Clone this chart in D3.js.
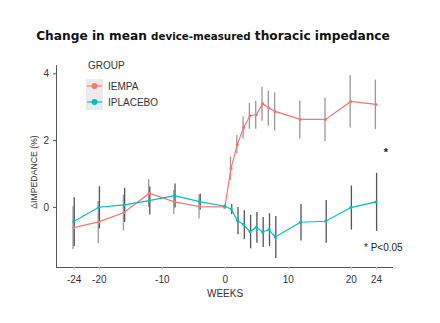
<!DOCTYPE html>
<html><head><meta charset="utf-8">
<script src="https://cdn.jsdelivr.net/npm/d3@7"></script>
<style>body{margin:0;background:#fff;} svg{display:block;}</style>
</head><body><svg id="c" width="440" height="323"></svg>
<script>
const weeks = [-24,-20,-16,-12,-8,-4,0,1,2,3,4,5,6,7,8,12,16,20,24];
const empaMean = [-0.62,-0.45,-0.17,0.41,0.15,0.01,0.0,1.16,1.88,2.38,2.73,2.76,3.09,2.96,2.86,2.62,2.62,3.16,3.07];
const empaErr  = [0.64,0.63,0.54,0.42,0.36,0.36,0.06,0.35,0.27,0.33,0.39,0.42,0.51,0.53,0.57,0.57,0.65,0.78,0.74];
const placMean = [-0.44,-0.01,0.06,0.19,0.34,0.16,0.02,-0.06,-0.41,-0.53,-0.74,-0.61,-0.75,-0.68,-0.90,-0.46,-0.43,-0.02,0.15];
const placErr  = [0.73,0.63,0.51,0.42,0.36,0.24,0.06,0.15,0.41,0.43,0.5,0.46,0.45,0.49,0.63,0.55,0.64,0.66,0.87];
const xTicks = [-24,-20,-10,0,10,20,24];
const yTicks = [0,2,4];
const groups = ["IEMPA","IPLACEBO"];
const colors = ["#F8766D","#00BFC4"];

const svg = d3.select("#c");
const x = d3.scaleLinear().domain([-26.8,26.7]).range([56,393]);
const y = d3.scaleLinear().domain([-1.8,4.25]).range([267,65]);

// title
const t = svg.append("text").attr("x",213).attr("y",40).attr("text-anchor","middle")
  .attr("font-family","DejaVu Sans").attr("font-weight","bold").attr("fill","#111");
t.append("tspan").attr("font-size",12.2).text("Change in mean ");
t.append("tspan").attr("font-size",10.3).text("device-measured");
t.append("tspan").attr("font-size",12.2).text(" thoracic impedance");

// axes
const fmt = d => String(d);
const ax = svg.append("g").attr("transform","translate(0,267)")
  .call(d3.axisBottom(x).tickValues(xTicks).tickFormat(fmt).tickSize(3).tickPadding(6));
ax.select(".domain").attr("d",`M56,0.5H393`).attr("stroke","#555");
ax.selectAll(".tick line").attr("stroke","#ccc");
ax.selectAll("text").attr("font-family","Liberation Sans").attr("font-size",10).attr("fill","#333");
const ay = svg.append("g").attr("transform","translate(56,0)")
  .call(d3.axisLeft(y).tickValues(yTicks).tickFormat(fmt).tickSize(3).tickPadding(4));
ay.select(".domain").attr("d",`M0.5,65V267`).attr("stroke","#555");
ay.selectAll(".tick line").attr("stroke","#555");
ay.selectAll("text").attr("font-family","Liberation Sans").attr("font-size",10).attr("fill","#333");

svg.append("text").attr("x",225).attr("y",297).attr("text-anchor","middle")
  .attr("font-family","Liberation Sans").attr("font-size",10).attr("fill","#333").text("WEEKS");
svg.append("text").attr("transform","translate(37,172) rotate(-90)").attr("text-anchor","middle")
  .attr("font-family","Liberation Sans").attr("font-size",8.7).attr("fill","#333").text("ΔIMPEDANCE (%)");

const series = [
  {m:empaMean,e:empaErr,c:colors[0]},
  {m:placMean,e:placErr,c:colors[1]}
];
const line = d3.line().x((d,i)=>x(weeks[i])).y(d=>y(d));
series.forEach((s,k)=>{
  const g = svg.append("g");
  g.selectAll("line").data(s.m).join("line")
    .attr("x1",(d,i)=>x(weeks[i])+(k?0.6:-0.6)).attr("x2",(d,i)=>x(weeks[i])+(k?0.6:-0.6))
    .attr("y1",(d,i)=>y(d-s.e[i])).attr("y2",(d,i)=>y(d+s.e[i]))
    .attr("stroke",k?"#555":"#999").attr("stroke-width",1.3);
});
series.forEach(s=>{
  svg.append("path").attr("d",line(s.m)).attr("fill","none").attr("stroke",s.c).attr("stroke-width",1.2);
  svg.append("g").selectAll("circle").data(s.m).join("circle")
    .attr("cx",(d,i)=>x(weeks[i])).attr("cy",d=>y(d)).attr("r",1.5).attr("fill",s.c);
});

// legend
svg.append("text").attr("x",88).attr("y",69).attr("font-family","Liberation Sans").attr("font-size",10).attr("fill","#333").text("GROUP");
svg.append("rect").attr("x",86).attr("y",79).attr("width",17).attr("height",31).attr("fill","#EBEBEB");
groups.forEach((gname,i)=>{
  const yy = 86 + i*16;
  svg.append("line").attr("x1",87).attr("x2",102).attr("y1",yy).attr("y2",yy).attr("stroke",colors[i]).attr("stroke-width",1.2);
  svg.append("circle").attr("cx",94.5).attr("cy",yy).attr("r",3).attr("fill",colors[i]);
  svg.append("text").attr("x",108).attr("y",yy+3.5).attr("font-family","Liberation Sans").attr("font-size",10).attr("fill","#333").text(gname);
});

svg.append("text").attr("x",386).attr("y",156).attr("text-anchor","middle").attr("font-family","Liberation Sans").attr("font-size",11).attr("font-weight","bold").attr("fill","#222").text("*");
svg.append("text").attr("x",364).attr("y",251).attr("font-family","Liberation Sans").attr("font-size",10).attr("fill","#222").text("*  P<0.05");
</script></body></html>
